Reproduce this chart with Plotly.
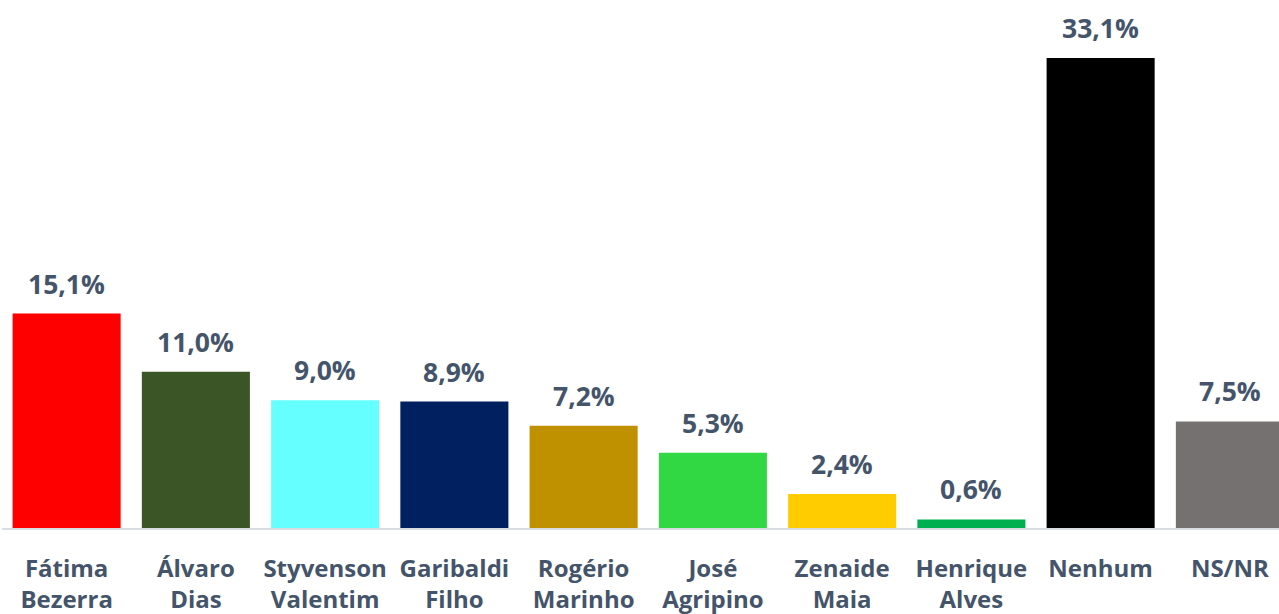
import plotly.graph_objects as go

categories = ["Fátima<br>Bezerra", "Álvaro<br>Dias", "Styvenson<br>Valentim", "Garibaldi<br>Filho",
              "Rogério<br>Marinho", "José<br>Agripino", "Zenaide<br>Maia", "Henrique<br>Alves",
              "Nenhum", "NS/NR"]
values = [15.1, 11.0, 9.0, 8.9, 7.2, 5.3, 2.4, 0.6, 33.1, 7.5]
colors = ["#FF0000", "#3B5526", "#66FFFF", "#002060", "#BF9000", "#31D843",
          "#FFCC00", "#00B050", "#000000", "#767171"]
labels = [f"{v:.1f}%".replace(".", ",") for v in values]

TEXT = "#44546A"
FONT = "Open Sans"

fig = go.Figure(go.Bar(x=categories, y=values, marker=dict(color=colors, line=dict(width=0)),
                       hoverinfo="skip"))

for c, v, t in zip(categories, values, labels):
    fig.add_annotation(x=c, y=v, text=f"<b>{t}</b>", showarrow=False, yanchor="bottom",
                       yshift=10, font=dict(family=FONT, size=26.5, color=TEXT))

fig.update_layout(
    width=1279, height=614,
    margin=dict(l=2, r=0, t=0, b=86, autoexpand=False),
    paper_bgcolor="white", plot_bgcolor="white",
    bargap=0.164, showlegend=False,
    xaxis=dict(range=[-0.5, 9.38], showline=True, linecolor="#D9DCE3", linewidth=1.5,
               ticks="outside", ticklen=18, tickcolor="white", automargin=False,
               tickfont=dict(family=FONT, size=24, color=TEXT), showgrid=False),
    yaxis=dict(range=[0, 37.18], visible=False, showgrid=False, zeroline=False, automargin=False),
)
fig.update_xaxes(tickvals=categories, ticktext=[f"<b>{c.replace('<br>', '</b><br><b>')}</b>" for c in categories])

fig.write_html("out.html", config={"displayModeBar": False},
               post_script="document.body.style.margin='0';document.body.style.overflow='hidden';")
